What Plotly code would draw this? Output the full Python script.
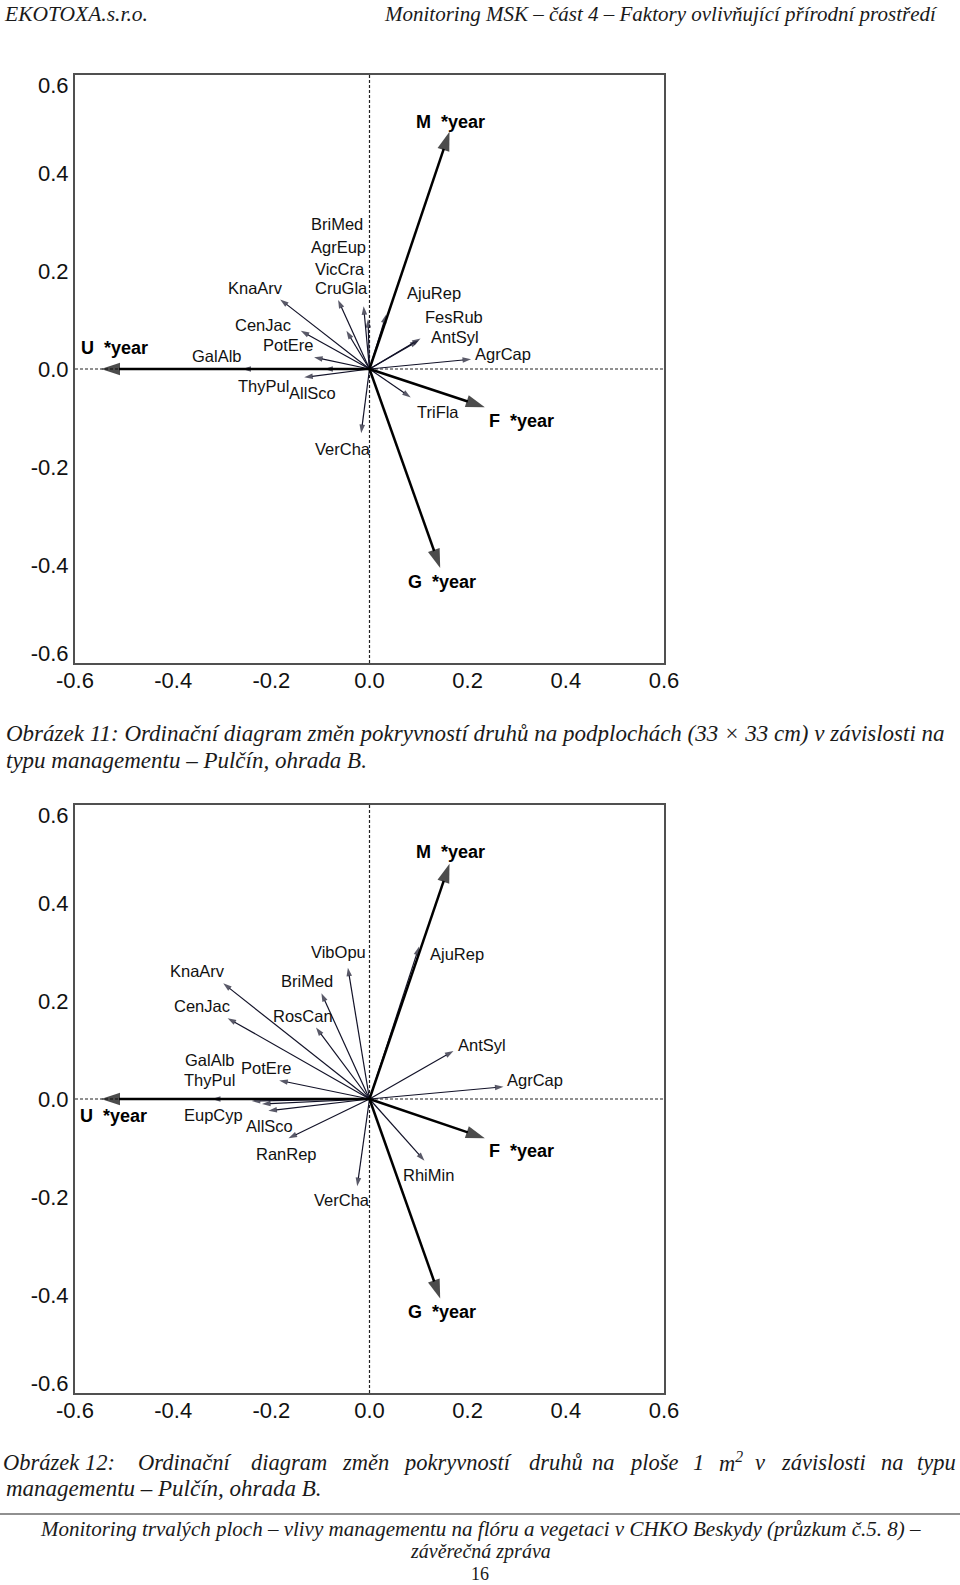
import plotly.graph_objects as go

W, H = 960, 1585

# ---------------- data: environmental (management x year) vectors ----------------
env_labels = ["M\u00a0\u00a0*year", "U\u00a0\u00a0*year", "F\u00a0\u00a0*year", "G\u00a0\u00a0*year"]
env1_x = [0.163, -0.547, 0.235, 0.144]
env1_y = [0.484, 0.000, -0.078, -0.406]
env2_x = [0.163, -0.547, 0.235, 0.144]
env2_y = [0.480, 0.000, -0.080, -0.407]

# ---------------- data: species vectors, figure 11 ----------------
sp1_names = ["KnaArv", "CenJac", "PotEre", "GalAlb", "ThyPul", "AllSco", "CruGla", "VicCra",
             "AgrEup", "BriMed", "AjuRep", "FesRub", "AntSyl", "AgrCap", "TriFla", "VerCha"]
sp1_x = [-0.182, -0.140, -0.113, -0.259, -0.092, -0.133, -0.064, -0.047,
         -0.012, -0.003, 0.034, 0.104, 0.100, 0.207, 0.084, -0.017]
sp1_y = [0.142, 0.078, 0.024, 0.000, 0.000, -0.017, 0.141, 0.078,
         0.128, 0.102, 0.111, 0.062, 0.058, 0.020, -0.058, -0.131]

# ---------------- data: species vectors, figure 12 ----------------
sp2_names = ["VibOpu", "AjuRep", "KnaArv", "BriMed", "CenJac", "RosCan", "AntSyl", "GalAlb",
             "ThyPul", "PotEre", "AgrCap", "EupCyp", "AllSco", "RanRep", "RhiMin", "VerCha"]
sp2_x = [-0.044, 0.101, -0.298, -0.098, -0.289, -0.109, 0.171, -0.321,
         -0.240, -0.184, 0.273, -0.219, -0.206, -0.165, 0.112, -0.025]
sp2_y = [0.268, 0.311, 0.236, 0.216, 0.165, 0.146, 0.098, 0.000,
         -0.004, 0.038, 0.025, -0.010, -0.024, -0.080, -0.126, -0.178]

x_tick_vals = [-0.6, -0.4, -0.2, 0.0, 0.2, 0.4, 0.6]
y_tick_vals = [-0.58, -0.4, -0.2, 0.0, 0.2, 0.4, 0.58]   # end labels sit just inside the frame
tick_text = ["-0.6", "-0.4", "-0.2", "0.0", "0.2", "0.4", "0.6"]

# ---------------- label placement (layout, left edge / vertical centre) ----------------
env1_lab = [(0.090, 0.504), (-0.591, 0.043), (0.240, -0.107), (0.074, -0.434)]
env2_lab = [(0.090, 0.505), (-0.593, -0.034), (0.240, -0.106), (0.074, -0.434)]
sp1_lab = [(-0.293, 0.166), (-0.278, 0.089), (-0.222, 0.048), (-0.365, 0.027), (-0.273, -0.034),
           (-0.168, -0.049), (-0.115, 0.166), (-0.115, 0.205), (-0.123, 0.249), (-0.123, 0.295),
           (0.073, 0.156), (0.109, 0.107), (0.121, 0.066), (0.211, 0.031), (0.093, -0.087),
           (-0.115, -0.164)]
sp2_lab = [(-0.123, 0.300), (0.119, 0.296), (-0.410, 0.261), (-0.185, 0.240), (-0.402, 0.189),
           (-0.200, 0.170), (0.177, 0.111), (-0.379, 0.080), (-0.381, 0.038), (-0.265, 0.064),
           (0.277, 0.039), (-0.381, -0.032), (-0.256, -0.055), (-0.236, -0.112), (0.064, -0.156),
           (-0.117, -0.207)]

SP_COLOR = "#121228"
ENV_COLOR = "#000000"
SANS = "Liberation Sans, Arial, sans-serif"
SERIF = "Liberation Serif, Times New Roman, serif"

fig = go.Figure()


def add_vectors(xs, ys, xref, yref, color, width, headsize):
    for vx, vy in zip(xs, ys):
        fig.add_trace(go.Scatter(
            x=[0, vx], y=[0, vy], xaxis=xref, yaxis=yref, mode="lines+markers",
            line=dict(color=color, width=width),
            marker=dict(symbol="arrow", size=[0, headsize], color=color,
                        angleref="previous", line=dict(width=0)),
            hoverinfo="skip", showlegend=False))


annotations = []


def add_labels(names, pos, xref, yref, font):
    for n, (lx, ly) in zip(names, pos):
        annotations.append(dict(text=n, x=lx, y=ly, xref=xref, yref=yref, xanchor="left",
                                yanchor="middle", showarrow=False, font=font))


sp_font = dict(family=SANS, size=16.5, color="#111111")
env_font = dict(family=SANS, size=18, color="#000000", weight="bold")

for xr, yr, sx, sy, sn, sl, ex, ey, el in [
        ("x", "y", sp1_x, sp1_y, sp1_names, sp1_lab, env1_x, env1_y, env1_lab),
        ("x2", "y2", sp2_x, sp2_y, sp2_names, sp2_lab, env2_x, env2_y, env2_lab)]:
    fig.add_trace(go.Scatter(x=[0, 0], y=[-0.6, 0.6], xaxis=xr, yaxis=yr, mode="lines",
                             line=dict(color="#222222", width=1.2, dash="3px,2px"),
                             hoverinfo="skip", showlegend=False))
    fig.add_trace(go.Scatter(x=[-0.6, 0.6], y=[0, 0], xaxis=xr, yaxis=yr, mode="lines",
                             line=dict(color="#222222", width=1.2, dash="3px,2px"),
                             hoverinfo="skip", showlegend=False))
    add_vectors(sx, sy, xr, yr, SP_COLOR, 1.2, 9)
    add_vectors(ex, ey, xr, yr, ENV_COLOR, 2.5, 20)
    add_labels(sn, sl, xr, yr, sp_font)
    add_labels(env_labels, el, xr, yr, env_font)


def py(Y):
    return 1 - Y / H


XDOM = [75 / W, 664 / W]
axis_common = dict(range=[-0.6, 0.6], showgrid=False, zeroline=False, showline=True, mirror=True,
                   linecolor="#505050", linewidth=2, ticks="", ticktext=tick_text,
                   tickfont=dict(family=SANS, size=22, color="#111111"), fixedrange=True,
                   automargin=False)

fig.update_layout(
    width=W, height=H, autosize=False, margin=dict(l=0, r=0, t=0, b=0, pad=0, autoexpand=False),
    paper_bgcolor="white", plot_bgcolor="white",
    xaxis=dict(domain=XDOM, anchor="y", tickvals=x_tick_vals, ticklabelstandoff=-3, **axis_common),
    yaxis=dict(domain=[py(663), py(75)], anchor="x", tickvals=y_tick_vals, ticklabelstandoff=0,
               **axis_common),
    xaxis2=dict(domain=XDOM, anchor="y2", tickvals=x_tick_vals, ticklabelstandoff=-3, **axis_common),
    yaxis2=dict(domain=[py(1393), py(805)], anchor="x2", tickvals=y_tick_vals, ticklabelstandoff=0,
                **axis_common),
)


def page_text(text, X, Y, anchor, font, pad=1):
    annotations.append(dict(text=text, x=X / W, y=py(Y), xref="paper", yref="paper",
                            xanchor=anchor, yanchor="middle", showarrow=False, font=font,
                            borderpad=pad))


# header
page_text("EKOTOXA.s.r.o.", 2, 14, "left", dict(family=SERIF, size=21.5, color="#1a1a1a", style="italic"))
page_text("Monitoring MSK – část 4 – Faktory ovlivňující přírodní prostředí", 940, 14, "right",
          dict(family=SERIF, size=21, color="#1a1a1a", style="italic"))

# caption 11
cap_font = dict(family=SERIF, size=23, color="#1a1a1a", style="italic")
page_text("Obrázek 11: Ordinační diagram změn pokryvností druhů na podplochách (33 × 33 cm) v závislosti na",
          4, 734, "left", cap_font)
page_text("typu managementu – Pulčín, ohrada B.", 4, 760, "left", cap_font)

# caption 12 (justified line, word by word, centred on the reference word positions)
cap2_words = ["Obrázek", "12:", "Ordinační", "diagram", "změn", "pokryvností", "druhů", "na",
              "ploše", "1", "m<sup>2</sup>", "v", "závislosti", "na", "typu"]
cap2_centres = [41, 100, 184, 289, 365, 457, 556, 603, 654, 698, 731, 760, 823, 892, 936]
cap2_font = dict(family=SERIF, size=22.5, color="#1a1a1a", style="italic")
for w_, c_ in zip(cap2_words, cap2_centres):
    page_text(w_, c_, 1462, "center", cap2_font)
page_text("managementu – Pulčín, ohrada B.", 4, 1488, "left", cap_font)

# footer
fig.add_shape(type="line", xref="paper", yref="paper", x0=0, x1=1, y0=py(1514), y1=py(1514),
              line=dict(color="#222222", width=1.2))
page_text("Monitoring trvalých ploch – vlivy managementu na flóru a vegetaci v CHKO Beskydy (průzkum č.5. 8) –",
          480, 1529, "center", dict(family=SERIF, size=21, color="#1a1a1a", style="italic"), 0)
page_text("závěrečná zpráva", 480, 1551, "center",
          dict(family=SERIF, size=20, color="#1a1a1a", style="italic"), 0)
page_text("16", 480, 1574, "center", dict(family=SERIF, size=18, color="#1a1a1a"), 0)

fig.update_layout(annotations=annotations)

fig.write_html("out.html", config={"displayModeBar": False, "responsive": False},
               post_script="document.documentElement.style.margin='0px';"
                           "document.body.style.margin='0px';"
                           "document.body.style.overflow='hidden';"
                           "document.documentElement.style.overflow='hidden';")
